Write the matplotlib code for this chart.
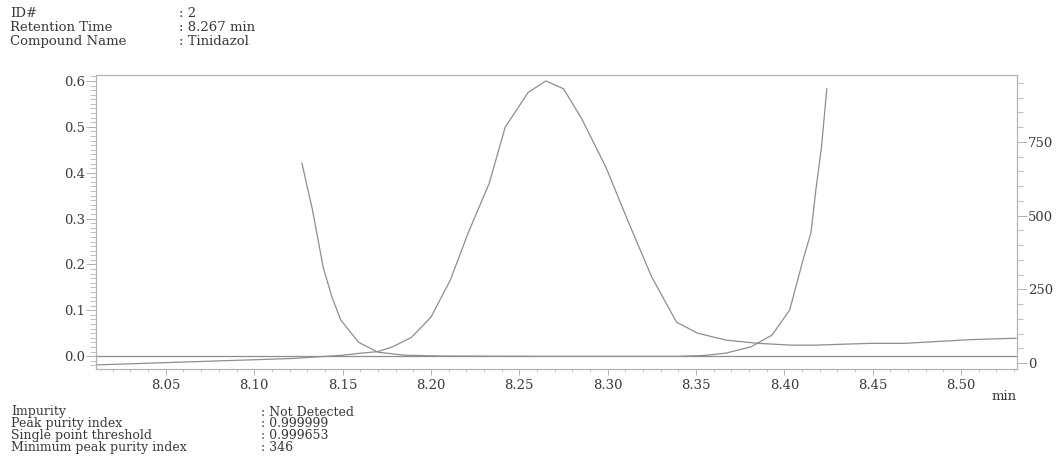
import matplotlib
matplotlib.use("Agg")
import matplotlib.pyplot as plt
from matplotlib.ticker import MultipleLocator

plt.rcParams["font.family"] = ["DejaVu Serif", "Liberation Serif"]

# chromatogram (left axis)
peak_t = [8.011, 8.122, 8.150, 8.159, 8.170, 8.178, 8.189, 8.200, 8.211, 8.221,
          8.233, 8.242, 8.255, 8.265, 8.275, 8.285, 8.299, 8.312, 8.325, 8.339,
          8.351, 8.367, 8.385, 8.404, 8.417, 8.449, 8.468, 8.505, 8.531]
peak_v = [-0.019, -0.005, 0.002, 0.006, 0.010, 0.020, 0.041, 0.085, 0.166, 0.268,
          0.377, 0.499, 0.575, 0.600, 0.583, 0.520, 0.412, 0.290, 0.172, 0.074,
          0.050, 0.035, 0.028, 0.024, 0.024, 0.028, 0.028, 0.036, 0.039]

# purity curve (right axis)
pur_t = [8.127, 8.133, 8.139, 8.144, 8.149, 8.159, 8.170, 8.185, 8.206, 8.260,
         8.340, 8.355, 8.367, 8.381, 8.393, 8.403, 8.411, 8.415, 8.418, 8.421, 8.424]
pur_v = [678, 519, 326, 224, 146, 71, 37, 27, 24, 23,
         23, 26, 34, 55, 95, 180, 360, 441, 597, 733, 930]

threshold = 0.0

header_labels = ["ID#", "Retention Time", "Compound Name"]
header_values = [": 2", ": 8.267 min", ": Tinidazol"]
footer_labels = ["Impurity", "Peak purity index", "Single point threshold",
                 "Minimum peak purity index"]
footer_values = [": Not Detected", ": 0.999999", ": 0.999653", ": 346"]

txt = "#3a3a3a"
line_c = "#8e8e8e"
frame_c = "#b4b4b4"

fig = plt.figure(figsize=(10.62, 4.63), dpi=100)
ax = fig.add_axes([0.0904, 0.203, 0.8672, 0.635])
ax2 = ax.twinx()

ax.plot(peak_t, peak_v, color=line_c, lw=0.9)
ax.axhline(threshold, color=line_c, lw=0.9)
ax2.plot(pur_t, pur_v, color=line_c, lw=0.9)

ax.set_xlim(8.0105, 8.5316)
ax.set_ylim(-0.028, 0.613)
ax2.set_ylim(-20, 977)

ax.xaxis.set_major_locator(MultipleLocator(0.05))
ax.xaxis.set_minor_locator(MultipleLocator(0.01))
ax.yaxis.set_major_locator(MultipleLocator(0.1))
ax.yaxis.set_minor_locator(MultipleLocator(0.01))
ax2.yaxis.set_major_locator(MultipleLocator(250))
ax2.yaxis.set_minor_locator(MultipleLocator(50))

ax.xaxis.set_major_formatter(plt.FuncFormatter(lambda v, p: f"{v:.2f}"))
ax.yaxis.set_major_formatter(plt.FuncFormatter(lambda v, p: f"{v:.1f}"))

for a in (ax, ax2):
    for s in a.spines.values():
        s.set_color(frame_c)
        s.set_linewidth(0.8)
    a.tick_params(which="both", color=frame_c, labelsize=9.5, labelcolor=txt)
    a.tick_params(axis="y", which="major", length=7.5, width=0.7, pad=0.5)
    a.tick_params(axis="y", which="minor", length=4.5, width=0.6)
ax.tick_params(axis="x", which="major", length=4.5, width=0.7, pad=2.5)
ax.tick_params(axis="x", which="minor", length=2.5, width=0.6)
ax.tick_params(axis="x", top=False)
ax.tick_params(axis="y", right=False)

ax.text(1.0, -0.095, "min", transform=ax.transAxes, ha="right", va="center",
        fontsize=9.5, color=txt)

for i, (lab, val) in enumerate(zip(header_labels, header_values)):
    y = 1 - (13.5 + 14.2 * i) / 463
    fig.text(10 / 1062, y, lab, fontsize=9.5, color=txt, va="center")
    fig.text(179 / 1062, y, val, fontsize=9.5, color=txt, va="center")

for i, (lab, val) in enumerate(zip(footer_labels, footer_values)):
    y = 1 - (412 + 11.8 * i) / 463
    fig.text(11 / 1062, y, lab, fontsize=9, color=txt, va="center")
    fig.text(261 / 1062, y, val, fontsize=9, color=txt, va="center")

fig.savefig("out.png", dpi=100)
